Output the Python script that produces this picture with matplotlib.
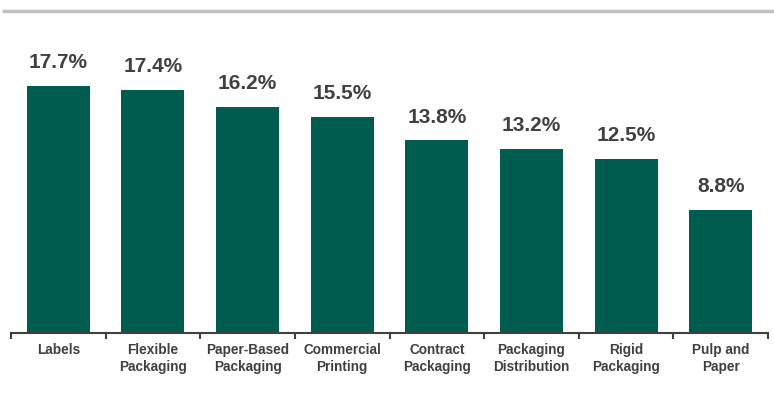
import numpy as np
import matplotlib.pyplot as plt
from matplotlib.lines import Line2D

plt.rcParams['font.family'] = ['Liberation Sans', 'DejaVu Sans']

# data
categories = ["Labels", "Flexible\nPackaging", "Paper-Based\nPackaging", "Commercial\nPrinting",
              "Contract\nPackaging", "Packaging\nDistribution", "Rigid\nPackaging", "Pulp and\nPaper"]
values = [17.7, 17.4, 16.2, 15.5, 13.8, 13.2, 12.5, 8.8]

text_col = '#404040'
bar_col = '#005c4e'

fig = plt.figure(figsize=(7.74, 3.98), dpi=100)
ax = fig.add_axes([11/774, 65/398, 757/774, 313/398])

x = np.arange(len(categories))
rects = ax.bar(x, values, width=0.667, color=bar_col)
ax.bar_label(rects, labels=[f"{v:.1f}%" for v in values], padding=10,
             fontsize=15, fontweight='bold', color=text_col)

ax.set_xlim(-0.5, len(categories) - 0.5)
ax.set_ylim(0, 313 / 13.95)

# ticks at category boundaries, labels in the middle
ax.set_xticks(np.arange(len(categories) + 1) - 0.5)
ax.set_xticklabels([])
ax.set_xticks(x, minor=True)
ax.set_xticklabels(categories, minor=True, fontsize=9.8, fontweight='bold',
                   color=text_col, linespacing=1.3)
ax.tick_params(axis='x', which='major', direction='out', length=4, width=1.5, color=text_col)
ax.tick_params(axis='x', which='minor', length=0, pad=7)
ax.set_yticks([])

for s in ['top', 'right', 'left']:
    ax.spines[s].set_visible(False)
ax.spines['bottom'].set_color(text_col)
ax.spines['bottom'].set_linewidth(1.5)

# grey rule across the top
fig.add_artist(Line2D([4/774, 1], [1 - 11/398, 1 - 11/398], color='#c0c0c0', lw=2.5,
                      transform=fig.transFigure))

plt.savefig("out.png", dpi=100)
